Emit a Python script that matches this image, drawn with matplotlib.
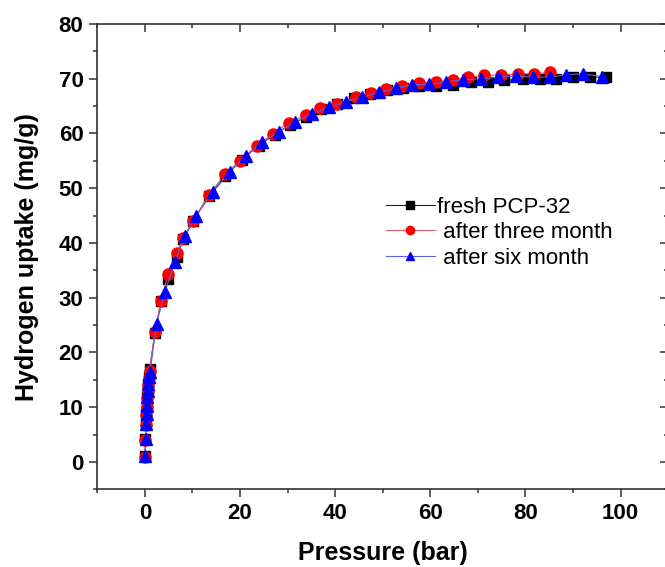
import matplotlib
matplotlib.use("Agg")
import matplotlib.pyplot as plt
from matplotlib.ticker import MultipleLocator

plt.rcParams['font.family'] = ['Liberation Sans', 'DejaVu Sans']

# fresh PCP-32
fresh_p = [0.05, 0.1, 0.2, 0.3, 0.4, 0.5, 0.6, 0.7, 0.85, 1.0, 2.1, 3.4, 4.9, 6.7, 8.1, 10.2,
           13.4, 16.9, 20.4, 23.9, 27.3, 30.6, 33.8, 37.0, 40.4, 44.0, 47.4, 50.8, 54.2,
           57.7, 61.2, 64.7, 68.6, 72.1, 75.6, 79.5, 83.0, 86.5, 90.0, 93.5, 97.0]
fresh_u = [1.1, 4.2, 6.9, 8.7, 10.3, 11.8, 13.0, 14.2, 15.5, 16.9, 23.5, 29.4, 33.4, 37.5,
           40.7, 44.1, 48.5, 52.2, 55.2, 57.8, 59.8, 61.6, 63.0, 64.4, 65.4, 66.4, 67.2,
           67.9, 68.3, 68.6, 68.6, 68.9, 69.4, 69.4, 69.7, 70.0, 70.0, 70.0, 70.3, 70.3, 70.3]

# after three month
three_p = [0.05, 0.1, 0.2, 0.3, 0.4, 0.5, 0.6, 0.7, 0.85, 1.0, 2.1, 3.4, 4.9, 6.7, 8.1, 10.2,
           13.4, 16.9, 20.0, 23.5, 26.9, 30.2, 33.8, 36.9, 40.4, 44.3, 47.5, 50.6, 54.1,
           57.7, 61.2, 64.7, 67.9, 71.4, 74.9, 78.4, 81.9, 85.2]
three_u = [0.9, 4.0, 6.7, 8.6, 10.1, 11.6, 12.9, 14.1, 15.4, 16.7, 23.7, 29.4, 34.3, 38.2,
           40.9, 44.1, 48.8, 52.6, 55.0, 57.8, 59.9, 62.0, 63.3, 64.6, 65.4, 66.6, 67.4,
           68.2, 68.6, 69.2, 69.4, 69.8, 70.3, 70.6, 70.7, 70.9, 70.9, 71.2]

# after six month
six_p = [0.1, 0.15, 0.25, 0.35, 0.45, 0.55, 0.65, 0.75, 0.9, 1.1, 2.45, 4.2, 6.3, 8.4, 10.8,
         14.4, 17.8, 21.2, 24.7, 28.1, 31.6, 35.1, 38.7, 42.2, 45.7, 49.2, 52.7, 56.2,
         59.8, 63.3, 66.8, 70.7, 74.2, 78.0, 81.6, 85.1, 88.6, 92.1, 96.0]
six_u = [1.1, 4.2, 6.9, 8.7, 10.3, 11.8, 13.0, 14.2, 15.5, 16.5, 25.2, 31.0, 36.5, 41.3, 45.0,
         49.4, 52.9, 55.9, 58.4, 60.3, 62.1, 63.6, 64.8, 65.8, 66.6, 67.5, 68.3, 68.9,
         69.0, 69.4, 69.8, 70.0, 70.3, 70.5, 70.3, 70.3, 70.7, 70.9, 70.4]

labels = ["fresh PCP-32", " after three month", " after six month"]

fig = plt.figure(figsize=(6.65, 5.67), dpi=100)
ax = fig.add_axes([97.3/665, 1 - 489.3/567, (668.1 - 97.3)/665, (489.3 - 24)/567])

ax.plot(fresh_p, fresh_u, color='#222222', lw=0.8, marker='s', ms=7.3,
        mfc='black', mec='black', label=labels[0])
ax.plot(three_p, three_u, color='#e06060', lw=0.8, marker='o', ms=8,
        mfc='#ff0000', mec='#ff0000', label=labels[1])
ax.plot(six_p, six_u, color='#6060e0', lw=0.8, marker='^', ms=8.5,
        mfc='#0000ff', mec='#0000ff', label=labels[2])

ax.set_xlim(-10, 110)
ax.set_ylim(-5, 80)
ax.xaxis.set_major_locator(MultipleLocator(20))
ax.xaxis.set_minor_locator(MultipleLocator(10))
ax.yaxis.set_major_locator(MultipleLocator(10))
ax.yaxis.set_minor_locator(MultipleLocator(5))

for s in ax.spines.values():
    s.set_linewidth(1.2)
    s.set_color('#333333')

ax.tick_params(axis='both', which='major', length=6, width=1.1, labelsize=16, pad=4,
               color='#333333')
ax.tick_params(axis='both', which='minor', length=3, width=1.1, color='#333333')
ax.tick_params(axis='x', which='both', top=True, direction='out')
ax.tick_params(axis='y', which='both', right=True, direction='out')
for t in ax.xaxis.get_major_ticks() + ax.xaxis.get_minor_ticks():
    t.tick2line.set_marker(matplotlib.lines.TICKDOWN)
for t in ax.yaxis.get_major_ticks() + ax.yaxis.get_minor_ticks():
    t.tick2line.set_marker(matplotlib.lines.TICKLEFT)

for lab in ax.get_xticklabels() + ax.get_yticklabels():
    lab.set_fontweight('bold')

ax.set_xlabel("Pressure (bar)", fontsize=18, fontweight='bold', labelpad=12)
ax.set_ylabel("Hydrogen uptake (mg/g)", fontsize=18, fontweight='bold', labelpad=14)

leg = ax.legend(loc='upper left', bbox_to_anchor=(0.49, 0.648), frameon=False, fontsize=16,
                handlelength=2.2, handletextpad=0.1, labelspacing=0.2, borderaxespad=0,
                markerscale=0.75)

fig.savefig("out.png", dpi=100)
